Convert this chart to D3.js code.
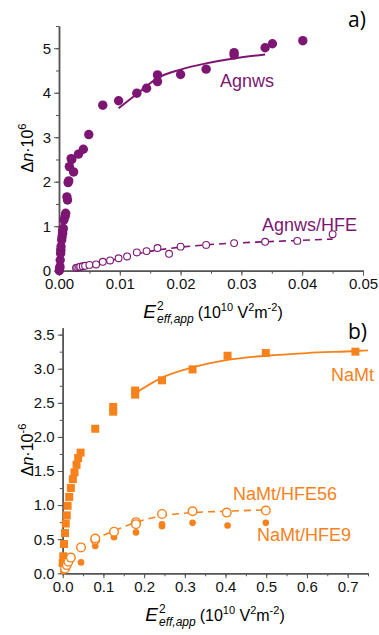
<!DOCTYPE html>
<html>
<head>
<meta charset="utf-8">
<script src="https://cdn.jsdelivr.net/npm/d3@7"></script>
<style>
  body { margin: 0; background: #fff; }
  svg { display: block; font-family: "Liberation Sans", Arial, sans-serif; }
  .axis path, .axis line { stroke: #555; }
  .axis text { font-size: 15px; fill: #111; }
</style>
</head>
<body>
<svg id="chart" width="379" height="635"></svg>
<script>
// panel a) silver nanowires
const agX = [0.00005, 0.0001, 0.00016, 0.0002, 0.00027, 0.0003, 0.00033, 0.00044, 0.0005, 0.0006, 0.0006, 0.0007, 0.0008, 0.0010, 0.0011,
  0.0013, 0.0014, 0.0015, 0.0016, 0.0017, 0.0020, 0.0021, 0.0024, 0.0032, 0.0040, 0.0049, 0.0072, 0.0098, 0.0128, 0.0144,
  0.0162, 0.0162, 0.0200, 0.0242, 0.0288, 0.0288, 0.0339, 0.0351, 0.0401];
const agY = [0.0, 0.05, 0.09, 0.24, 0.39, 0.46, 0.54, 0.69, 0.76, 0.84, 0.90, 0.95, 1.14, 1.22, 1.29,
  1.66, 1.59, 1.98, 2.02, 2.34, 2.52, 2.50, 2.22, 2.62, 2.73, 3.06, 3.72, 3.82, 3.99, 4.10,
  4.40, 4.25, 4.41, 4.53, 4.90, 4.85, 5.01, 5.10, 5.17];
const agFitX = [0.0098, 0.0128, 0.0162, 0.0200, 0.0242, 0.0288, 0.0339];
const agFitY = [3.65, 3.97, 4.33, 4.52, 4.66, 4.77, 4.86];

const agHfeX = [0.0028, 0.0030, 0.0033, 0.0035, 0.0039, 0.0043, 0.0050, 0.0061, 0.0072, 0.0084, 0.0098, 0.0112, 0.0128,
  0.0144, 0.0162, 0.0181, 0.0200, 0.0242, 0.0288, 0.0339, 0.0392, 0.0450];
const agHfeY = [0.06, 0.07, 0.08, 0.09, 0.10, 0.11, 0.13, 0.14, 0.20, 0.23, 0.28, 0.32, 0.41,
  0.44, 0.51, 0.38, 0.54, 0.58, 0.62, 0.65, 0.67, 0.82];
const agHfeFitX = [0.003, 0.005, 0.0098, 0.0144, 0.0200, 0.0242, 0.0288, 0.0339, 0.0392, 0.0450];
const agHfeFitY = [0.07, 0.13, 0.27, 0.42, 0.53, 0.58, 0.62, 0.65, 0.68, 0.71];

// panel b) montmorillonite
const namtX = [0.0, 0.0015, 0.0032, 0.0057, 0.0074, 0.010, 0.012, 0.016, 0.020, 0.025, 0.029, 0.034, 0.038, 0.044,
  0.080, 0.124, 0.124, 0.178, 0.178, 0.244, 0.319, 0.405, 0.499, 0.719];
const namtY = [0.15, 0.25, 0.43, 0.59, 0.73, 0.85, 0.99, 1.12, 1.25, 1.38, 1.48, 1.59, 1.69, 1.77,
  2.12, 2.44, 2.37, 2.68, 2.62, 2.83, 2.99, 3.19, 3.23, 3.25];
const namtFitX = [0.178, 0.244, 0.319, 0.405, 0.499, 0.60, 0.719, 0.75];
const namtFitY = [2.64, 2.87, 3.02, 3.13, 3.19, 3.23, 3.26, 3.27];

const hfe56X = [0.0056, 0.010, 0.014, 0.020, 0.045, 0.080, 0.080, 0.126, 0.180, 0.180, 0.244, 0.319, 0.403, 0.499];
const hfe56Y = [0.07, 0.12, 0.17, 0.23, 0.38, 0.49, 0.51, 0.61, 0.75, 0.72, 0.87, 0.91, 0.89, 0.92];
const hfe56FitX = [0.10, 0.126, 0.18, 0.244, 0.319, 0.403, 0.5];
const hfe56FitY = [0.56, 0.62, 0.75, 0.84, 0.89, 0.91, 0.93];

const hfe9X = [0.0015, 0.005, 0.010, 0.045, 0.080, 0.126, 0.180, 0.244, 0.244, 0.319, 0.405, 0.499];
const hfe9Y = [0.03, 0.06, 0.10, 0.16, 0.40, 0.53, 0.60, 0.69, 0.72, 0.74, 0.70, 0.74];

const purple = '#7c1672';
const orange = '#f7821c';

const svg = d3.select('#chart');
const zip = (xs, ys) => xs.map((x, i) => ({x: x, y: ys[i]}));

/* draws one panel's axes and returns scales */
function makePanel(xDom, yDom, xRange, yRange, xTicks, xMinor, yTicks, yMinor, xFmt, yFmt) {
  const x = d3.scaleLinear().domain(xDom).range(xRange);
  const y = d3.scaleLinear().domain(yDom).range(yRange);
  const g = svg.append('g');

  g.append('g').attr('class', 'axis')
    .attr('transform', `translate(0,${yRange[0]})`)
    .call(d3.axisBottom(x).tickValues(xMinor).tickSize(3).tickFormat('').tickSizeOuter(0));
  g.append('g').attr('class', 'axis')
    .attr('transform', `translate(0,${yRange[0]})`)
    .call(d3.axisBottom(x).tickValues(xTicks).tickSize(5).tickPadding(3).tickFormat(xFmt).tickSizeOuter(0));
  g.append('g').attr('class', 'axis')
    .attr('transform', `translate(${xRange[0]},0)`)
    .call(d3.axisLeft(y).tickValues(yMinor).tickSize(3).tickFormat('').tickSizeOuter(0));
  g.append('g').attr('class', 'axis')
    .attr('transform', `translate(${xRange[0]},0)`)
    .call(d3.axisLeft(y).tickValues(yTicks).tickSize(5).tickPadding(3).tickFormat(yFmt).tickSizeOuter(0));
  g.selectAll('.axis path.domain').attr('stroke-width', 1.5);
  return {x, y, g};
}

function xLabel(cx, cy) {
  const g = svg.append('g');
  const e = g.append('text').attr('x', 0).attr('y', 0)
    .style('font-size', '19px').style('font-style', 'italic').text('E');
  const w = e.node().getComputedTextLength() + 1;
  g.append('text').attr('x', w).attr('y', -8).style('font-size', '12px').text('2');
  const sub = g.append('text').attr('x', w).attr('y', 5)
    .style('font-size', '12px').style('font-style', 'italic').text('eff,app');
  const w2 = w + sub.node().getComputedTextLength() + 4;
  const rest = g.append('text').attr('x', w2).attr('y', 0).style('font-size', '16px');
  rest.append('tspan').text('(10');
  rest.append('tspan').attr('dy', -7).style('font-size', '11px').text('10');
  rest.append('tspan').attr('dy', 7).text(' V');
  rest.append('tspan').attr('dy', -7).style('font-size', '11px').text('2');
  rest.append('tspan').attr('dy', 7).text('m');
  rest.append('tspan').attr('dy', -7).style('font-size', '11px').text('-2');
  rest.append('tspan').attr('dy', 7).text(')');
  const total = w2 + rest.node().getComputedTextLength();
  g.attr('transform', `translate(${cx - total / 2},${cy})`);
}

function yLabel(cx, cy, exp) {
  const t = svg.append('text')
    .attr('transform', `translate(${cx},${cy}) rotate(-90)`)
    .attr('text-anchor', 'middle')
    .style('font-size', '16px');
  t.append('tspan').text('Δ');
  t.append('tspan').style('font-style', 'italic').text('n');
  t.append('tspan').text('·10');
  t.append('tspan').attr('dy', -7).style('font-size', '11px').text(exp);
}

const line = (p) => d3.line().x(d => p.x(d.x)).y(d => p.y(d.y)).curve(d3.curveMonotoneX);

/* ---- panel a ---- */
const pa = makePanel([0, 0.05], [0, 5.5], [59, 363], [270.7, 26],
  d3.range(0, 0.0501, 0.01), d3.range(0, 0.0501, 0.005),
  d3.range(0, 5.01, 1), d3.range(0, 5.51, 0.5),
  d3.format('.2f'), d3.format('d'));

pa.g.append('path').datum(zip(agFitX, agFitY))
  .attr('d', line(pa)).attr('fill', 'none').attr('stroke', purple).attr('stroke-width', 2);
pa.g.append('path').datum(zip(agHfeFitX, agHfeFitY))
  .attr('d', line(pa)).attr('fill', 'none').attr('stroke', purple).attr('stroke-width', 1.6)
  .attr('stroke-dasharray', '7,5');

pa.g.selectAll('circle.ag').data(zip(agX, agY)).enter()
  .append('circle').attr('class', 'ag')
  .attr('cx', d => pa.x(d.x)).attr('cy', d => pa.y(d.y)).attr('r', 4.7)
  .attr('fill', purple);
pa.g.selectAll('circle.aghfe').data(zip(agHfeX, agHfeY)).enter()
  .append('circle').attr('class', 'aghfe')
  .attr('cx', d => pa.x(d.x)).attr('cy', d => pa.y(d.y)).attr('r', 3.4)
  .attr('fill', '#fff').attr('stroke', purple).attr('stroke-width', 1.1);

svg.append('text').attr('x', 220).attr('y', 87).style('font-size', '18px')
  .attr('fill', purple).text('Agnws');
svg.append('text').attr('x', 262).attr('y', 231).style('font-size', '18px')
  .attr('fill', purple).text('Agnws/HFE');
svg.append('text').attr('x', 348).attr('y', 27).style('font-size', '21px')
  .style('font-family', '"Open Sans", sans-serif').text('a)');

yLabel(33, 148, '6');
xLabel(213, 318);

/* ---- panel b ---- */
const pb = makePanel([0, 0.75], [0, 3.6], [62.7, 368], [573.3, 327.8],
  d3.range(0, 0.701, 0.1), d3.range(0, 0.751, 0.05),
  d3.range(0, 3.51, 0.5), d3.range(0, 3.51, 0.25),
  d3.format('.1f'), d3.format('.1f'));

pb.g.append('path').datum(zip(namtFitX, namtFitY))
  .attr('d', line(pb)).attr('fill', 'none').attr('stroke', orange).attr('stroke-width', 1.8);
pb.g.append('path').datum(zip(hfe56FitX, hfe56FitY))
  .attr('d', line(pb)).attr('fill', 'none').attr('stroke', orange).attr('stroke-width', 1.6)
  .attr('stroke-dasharray', '7,5');

pb.g.selectAll('rect.namt').data(zip(namtX, namtY)).enter()
  .append('rect').attr('class', 'namt')
  .attr('x', d => pb.x(d.x) - 4).attr('y', d => pb.y(d.y) - 4)
  .attr('width', 8).attr('height', 8).attr('fill', orange);
pb.g.selectAll('circle.h9').data(zip(hfe9X, hfe9Y)).enter()
  .append('circle').attr('class', 'h9')
  .attr('cx', d => pb.x(d.x)).attr('cy', d => pb.y(d.y)).attr('r', 3.3)
  .attr('fill', orange);
pb.g.selectAll('circle.h56').data(zip(hfe56X, hfe56Y)).enter()
  .append('circle').attr('class', 'h56')
  .attr('cx', d => pb.x(d.x)).attr('cy', d => pb.y(d.y)).attr('r', 4.3)
  .attr('fill', '#fff').attr('stroke', orange).attr('stroke-width', 1.4);

svg.append('text').attr('x', 331).attr('y', 381).style('font-size', '18px')
  .attr('fill', orange).text('NaMt');
svg.append('text').attr('x', 233).attr('y', 500).style('font-size', '18px')
  .attr('fill', orange).text('NaMt/HFE56');
svg.append('text').attr('x', 257).attr('y', 541).style('font-size', '18px')
  .attr('fill', orange).text('NaMt/HFE9');
svg.append('text').attr('x', 348).attr('y', 339).style('font-size', '21px')
  .style('font-family', '"Open Sans", sans-serif').text('b)');

yLabel(33, 450, '-6');
xLabel(215, 621);
</script>
</body>
</html>
